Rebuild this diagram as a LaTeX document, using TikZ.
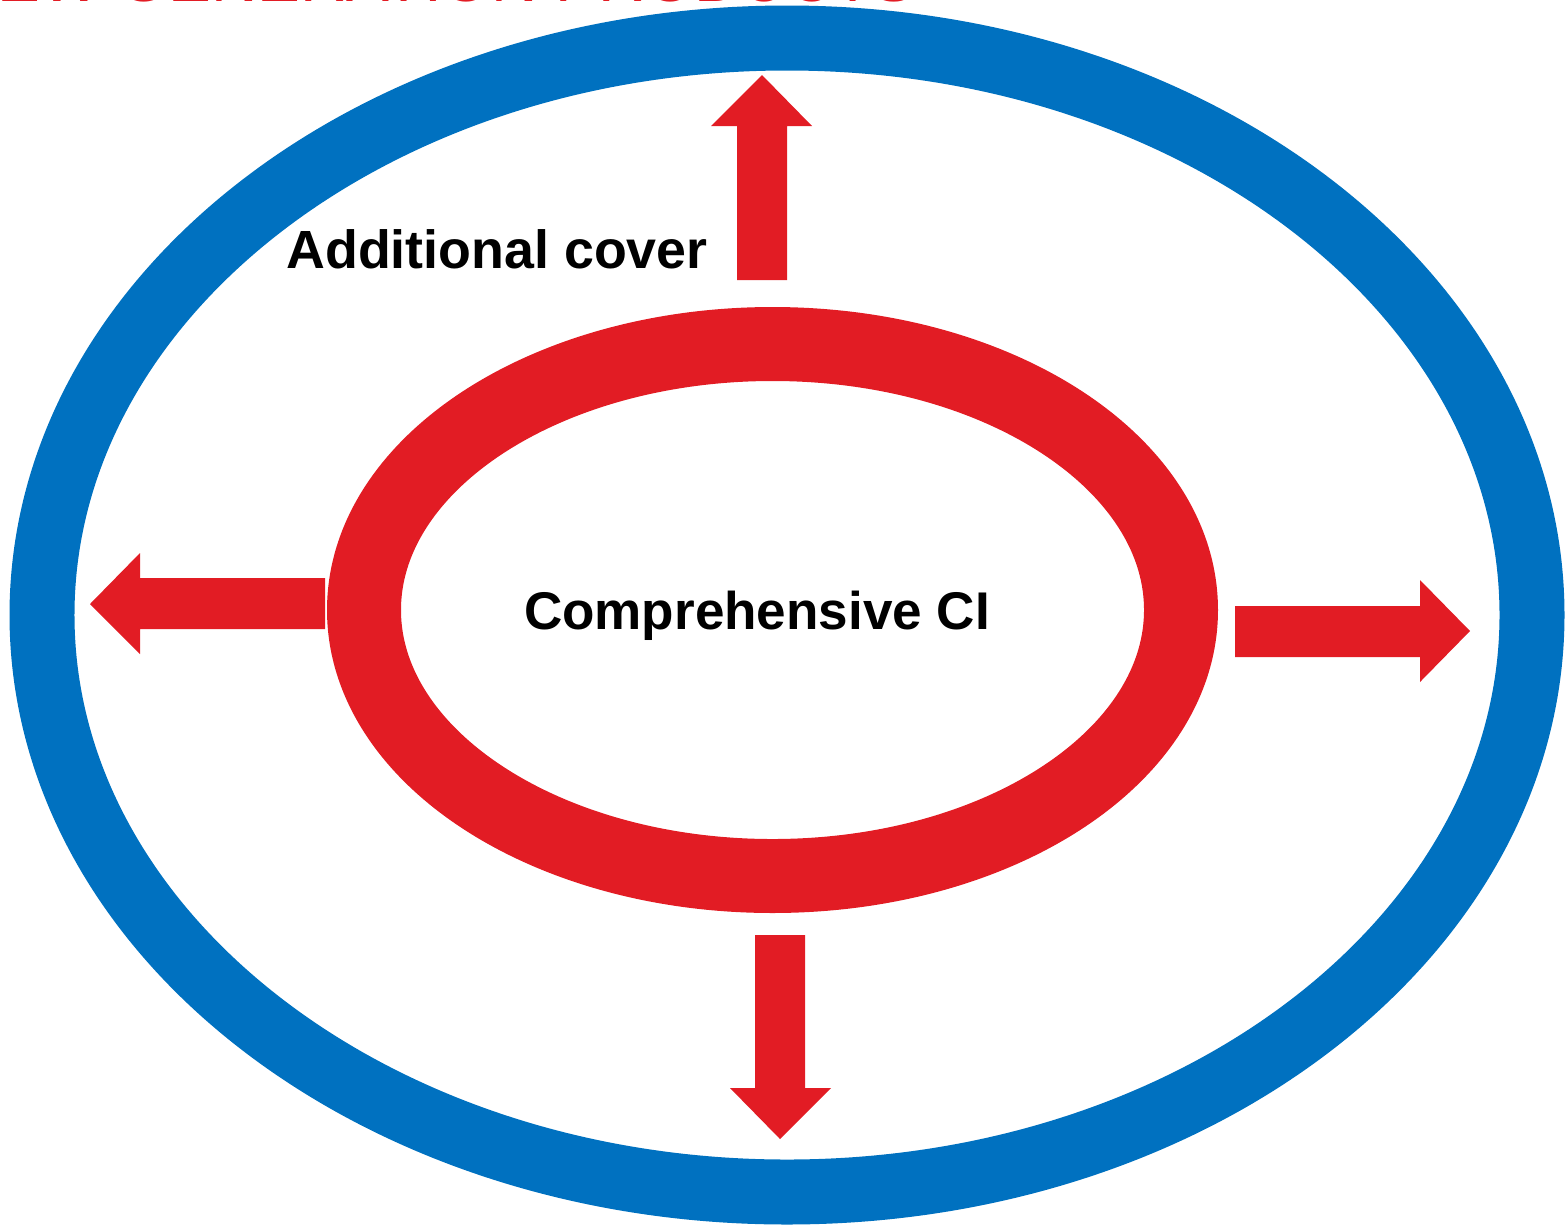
\documentclass[tikz,border=0pt]{standalone}
\usepackage{fontspec}
\setmainfont{Liberation Sans}
\definecolor{ringblue}{RGB}{0,113,192}
\definecolor{ringred}{RGB}{226,28,36}
\begin{document}
\begin{tikzpicture}[x=0.02cm,y=-0.02cm]
\useasboundingbox (0,0) rectangle (1565,1225);
\node[anchor=base east,text=ringred,font=\fontsize{36.5}{42}\selectfont] (title) at (922,1) {NEW GENERATION PRODUCTS};
\draw[ringblue,line width=1.3cm] (787,615) ellipse [x radius=745,y radius=577];
\draw[ringred,line width=1.48cm] (772.5,610) ellipse [x radius=408.5,y radius=266];
\fill[ringred] (737,280) -- (737,126) -- (711,126) -- (762,75) -- (812,126) -- (787,126) -- (787,280) -- cycle;
\fill[ringred] (755,935) -- (755,1088) -- (730,1088) -- (780,1139) -- (831,1088) -- (805,1088) -- (805,935) -- cycle;
\fill[ringred] (325,578) -- (140,578) -- (140,553) -- (90,604) -- (140,654) -- (140,629) -- (325,629) -- cycle;
\fill[ringred] (1235,606) -- (1420,606) -- (1420,580) -- (1470,631) -- (1420,682) -- (1420,657) -- (1235,657) -- cycle;
\node[anchor=base,font=\fontsize{30.6}{36}\selectfont\bfseries] (cover) at (497,268) {Additional cover};
\node[anchor=base,font=\fontsize{30.2}{36}\selectfont\bfseries] (core) at (757,629) {Comprehensive CI};
\end{tikzpicture}
\end{document}
